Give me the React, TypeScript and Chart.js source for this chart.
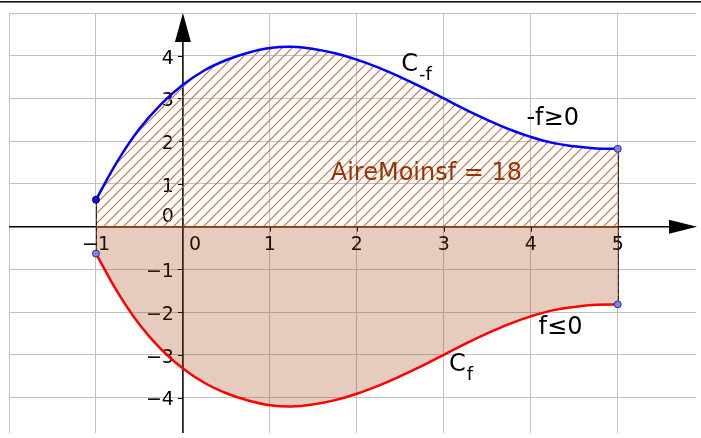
import React, { useEffect, useRef } from 'react';
import { Chart, registerables } from 'chart.js';

Chart.register(...registerables);

// Sample abscissas on [-1, 5]
const xValues = [-1, -0.75, -0.5, -0.25, 0, 0.25, 0.5, 0.75, 1, 1.25, 1.5, 1.75, 2, 2.25, 2.5, 2.75, 3, 3.25, 3.5, 3.75, 4, 4.25, 4.5, 4.75, 5];
// Curve C_-f  (values of -f)
const minusFValues = [0.63, 1.54, 2.29, 2.87, 3.32, 3.66, 3.9, 4.07, 4.18, 4.21, 4.16, 4.06, 3.91, 3.72, 3.5, 3.26, 3.0, 2.74, 2.5, 2.28, 2.1, 1.96, 1.88, 1.83, 1.82];
// Curve C_f  (values of f)
const fValues = [-0.63, -1.54, -2.29, -2.87, -3.32, -3.66, -3.9, -4.07, -4.18, -4.21, -4.16, -4.06, -3.91, -3.72, -3.5, -3.26, -3.0, -2.74, -2.5, -2.28, -2.1, -1.96, -1.88, -1.83, -1.82];

const xGridValues = [-2, -1, 0, 1, 2, 3, 4, 5];
const yGridValues = [-4, -3, -2, -1, 0, 1, 2, 3, 4, 5];
const xTickValues = [-1, 0, 1, 2, 3, 4, 5];
const xTickLabels = ['\u22121', '0', '1', '2', '3', '4', '5'];
const yTickValues = [-4, -3, -2, -1, 0, 1, 2, 3, 4];
const yTickLabels = ['\u22124', '\u22123', '\u22122', '\u22121', '0', '1', '2', '3', '4'];

const areaValue = 18;

const BROWN = 'rgb(153,51,0)';
const FONT = '"DejaVu Sans", "Liberation Sans", sans-serif';

function makeHatch(ctx: CanvasRenderingContext2D): CanvasPattern | string {
  const size = 10;
  const c = document.createElement('canvas');
  c.width = size;
  c.height = size;
  const g = c.getContext('2d');
  if (!g) return 'rgba(153,51,0,0.2)';
  g.strokeStyle = 'rgb(196,110,66)';
  g.lineWidth = 1.1;
  g.beginPath();
  g.moveTo(-2, size + 2);
  g.lineTo(size + 2, -2);
  g.moveTo(-2, 2);
  g.lineTo(2, -2);
  g.moveTo(size - 2, size + 2);
  g.lineTo(size + 2, size - 2);
  g.stroke();
  return ctx.createPattern(c, 'repeat') || 'rgba(153,51,0,0.2)';
}

const axesPlugin = {
  id: 'geoAxes',
  beforeDatasetsDraw(chart: any) {
    const { ctx, chartArea } = chart;
    const xs = chart.scales.x;
    const ys = chart.scales.y;
    const x0 = xs.getPixelForValue(0);
    const y0 = ys.getPixelForValue(0);
    ctx.save();
    ctx.strokeStyle = '#000';
    ctx.fillStyle = '#000';
    ctx.lineWidth = 1.5;
    // x axis
    ctx.beginPath();
    ctx.moveTo(chartArea.left, y0);
    ctx.lineTo(chartArea.right - 20, y0);
    ctx.stroke();
    // y axis
    ctx.beginPath();
    ctx.moveTo(x0, chartArea.bottom);
    ctx.lineTo(x0, chartArea.top + 20);
    ctx.stroke();
    // arrow heads
    ctx.beginPath();
    ctx.moveTo(chartArea.right + 1, y0);
    ctx.lineTo(chartArea.right - 27, y0 - 7);
    ctx.lineTo(chartArea.right - 27, y0 + 7);
    ctx.closePath();
    ctx.fill();
    ctx.beginPath();
    ctx.moveTo(x0, chartArea.top);
    ctx.lineTo(x0 - 8, chartArea.top + 29);
    ctx.lineTo(x0 + 8, chartArea.top + 29);
    ctx.closePath();
    ctx.fill();
    // tick marks
    ctx.lineWidth = 1;
    xTickValues.forEach((v) => {
      if (v === 0) return;
      const px = Math.round(xs.getPixelForValue(v)) + 0.5;
      ctx.beginPath();
      ctx.moveTo(px, y0);
      ctx.lineTo(px, y0 + 5);
      ctx.stroke();
    });
    yTickValues.forEach((v) => {
      if (v === 0) return;
      const py = Math.round(ys.getPixelForValue(v)) + 0.5;
      ctx.beginPath();
      ctx.moveTo(x0 - 5, py);
      ctx.lineTo(x0, py);
      ctx.stroke();
    });
    // tick labels
    ctx.font = '19px ' + FONT;
    ctx.textBaseline = 'middle';
    ctx.textAlign = 'center';
    xTickValues.forEach((v, i) => {
      const px = xs.getPixelForValue(v);
      ctx.fillText(xTickLabels[i], v === 0 ? px + 12 : px, y0 + 18);
    });
    ctx.textAlign = 'right';
    yTickValues.forEach((v, i) => {
      const py = ys.getPixelForValue(v);
      ctx.fillText(yTickLabels[i], x0 - 9, v === 0 ? y0 - 10 : py + 3);
    });
    ctx.restore();
  },
  afterDatasetDraw(chart: any, args: any) {
    if (args.index !== 1) return;
    const { ctx } = chart;
    const xs = chart.scales.x;
    const ys = chart.scales.y;
    const y0 = ys.getPixelForValue(0);
    const first = 0;
    const last = xValues.length - 1;
    const xa = xs.getPixelForValue(xValues[first]);
    const xb = xs.getPixelForValue(xValues[last]);
    ctx.save();
    // region border along the x axis
    ctx.strokeStyle = BROWN;
    ctx.lineWidth = 1.5;
    ctx.beginPath();
    ctx.moveTo(xa, y0);
    ctx.lineTo(xb, y0);
    ctx.stroke();
    // vertical borders at both ends
    [first, last].forEach((i) => {
      const px = Math.round(xs.getPixelForValue(xValues[i])) + 0.5;
      const top = ys.getPixelForValue(minusFValues[i]);
      const bot = ys.getPixelForValue(fValues[i]);
      ctx.strokeStyle = BROWN;
      ctx.lineWidth = 1;
      ctx.setLineDash([]);
      ctx.beginPath();
      ctx.moveTo(px, top);
      ctx.lineTo(px, bot);
      ctx.stroke();
      ctx.strokeStyle = '#222';
      ctx.setLineDash([4, 3]);
      ctx.beginPath();
      ctx.moveTo(px, top);
      ctx.lineTo(px, bot);
      ctx.stroke();
    });
    ctx.restore();
  },
  afterDatasetsDraw(chart: any) {
    const { ctx } = chart;
    const xs = chart.scales.x;
    const ys = chart.scales.y;
    ctx.save();
    ctx.textBaseline = 'alphabetic';
    ctx.textAlign = 'left';
    const curveLabels = [
      { text: 'C', sub: '-f', x: 2.51, y: 3.64 },
      { text: '-f\u22650', sub: '', x: 3.95, y: 2.37 },
      { text: 'C', sub: 'f', x: 3.06, y: -3.37 },
      { text: 'f\u22640', sub: '', x: 4.09, y: -2.52 },
    ];
    curveLabels.forEach((l) => {
      const px = xs.getPixelForValue(l.x);
      const py = ys.getPixelForValue(l.y);
      ctx.fillStyle = '#000';
      ctx.font = '24px ' + FONT;
      ctx.fillText(l.text, px, py);
      if (l.sub) {
        const w = ctx.measureText(l.text).width;
        ctx.font = '18px ' + FONT;
        ctx.fillText(l.sub, px + w + 1, py + 9);
      }
    });
    ctx.fillStyle = BROWN;
    ctx.font = '24px ' + FONT;
    ctx.fillText('AireMoinsf = ' + areaValue, xs.getPixelForValue(1.7), ys.getPixelForValue(1.1));
    ctx.restore();
  },
  afterDraw(chart: any) {
    const { ctx, width } = chart;
    ctx.save();
    ctx.fillStyle = '#111';
    ctx.fillRect(0, 1, width, 1.6);
    ctx.restore();
  },
};

export default function App() {
  const canvasRef = useRef<HTMLCanvasElement | null>(null);

  useEffect(() => {
    const canvas = canvasRef.current;
    if (!canvas) return;
    const ctx = canvas.getContext('2d');
    if (!ctx) return;
    const hatch = makeHatch(ctx);

    const upper = xValues.map((x, i) => ({ x, y: minusFValues[i] }));
    const lower = xValues.map((x, i) => ({ x, y: fValues[i] }));
    const last = xValues.length - 1;
    const ends = [
      { x: xValues[0], y: minusFValues[0] },
      { x: xValues[0], y: fValues[0] },
      { x: xValues[last], y: minusFValues[last] },
      { x: xValues[last], y: fValues[last] },
    ];

    const chart = new Chart(canvas, {
      type: 'scatter',
      data: {
        datasets: [
          {
            data: ends,
            showLine: false,
            pointRadius: 3.5,
            pointBackgroundColor: ['#1010d0', '#8080ff', '#8080ff', '#8080ff'],
            pointBorderColor: ['#000060', '#333366', '#333366', '#333366'],
            pointBorderWidth: 1,
          },
          {
            data: upper,
            showLine: true,
            borderColor: '#0000ff',
            borderWidth: 2.5,
            pointRadius: 0,
            tension: 0.4,
            fill: 'origin',
            backgroundColor: hatch as any,
          },
          {
            data: lower,
            showLine: true,
            borderColor: '#ff0000',
            borderWidth: 2.5,
            pointRadius: 0,
            tension: 0.4,
            fill: 'origin',
            backgroundColor: 'rgba(153,51,0,0.25)',
          },
        ],
      },
      options: {
        responsive: false,
        maintainAspectRatio: false,
        animation: false,
        devicePixelRatio: 1,
        layout: { padding: { left: 9, top: 13, right: 0, bottom: 0 } },
        plugins: {
          legend: { display: false },
          tooltip: { enabled: false },
        },
        events: [],
        scales: {
          x: {
            type: 'linear',
            min: -2,
            max: 5.9,
            ticks: { display: false },
            border: { display: false },
            grid: { color: '#c0c0c0', lineWidth: 1, drawTicks: false },
            afterBuildTicks: (scale: any) => {
              scale.ticks = xGridValues.map((value) => ({ value }));
            },
          },
          y: {
            type: 'linear',
            min: -4.83,
            max: 5,
            ticks: { display: false },
            border: { display: false },
            grid: { color: '#c0c0c0', lineWidth: 1, drawTicks: false },
            afterBuildTicks: (scale: any) => {
              scale.ticks = yGridValues.map((value) => ({ value }));
            },
          },
        },
      },
      plugins: [axesPlugin],
    });

    return () => chart.destroy();
  }, []);

  return (
    <div style={{ position: 'absolute', left: 0, top: 0, width: 701, height: 438, background: '#fff' }}>
      <canvas ref={canvasRef} width={701} height={438} style={{ width: 701, height: 438, display: 'block' }} />
    </div>
  );
}
